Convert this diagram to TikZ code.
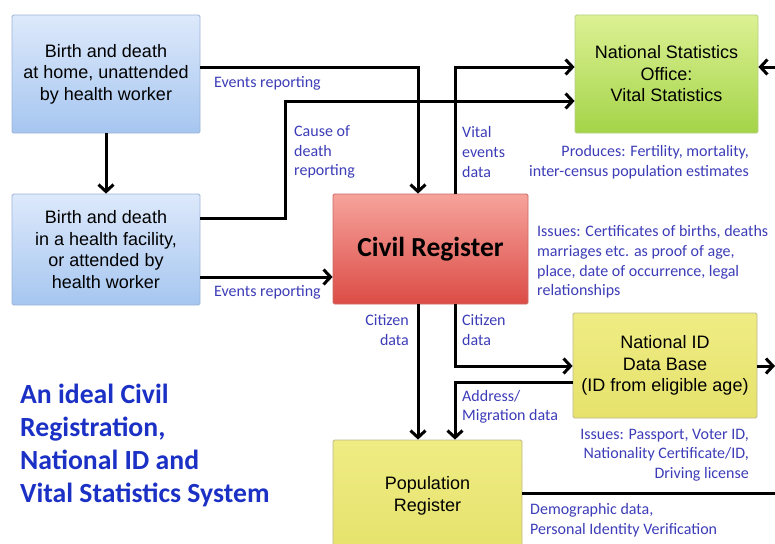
\documentclass[tikz,border=0pt]{standalone}
\usepackage{fontspec}
\setmainfont{Liberation Sans}
\newfontfamily\calibri{Carlito}
\usetikzlibrary{arrows.meta, calc}

\definecolor{noteblue}{HTML}{3C3CB8}
\definecolor{titleblue}{HTML}{1B30C4}
\definecolor{bluetop}{HTML}{DDE9FB}
\definecolor{bluebot}{HTML}{A6C6F0}
\definecolor{blueline}{HTML}{9DB4D6}
\definecolor{greentop}{HTML}{DCF194}
\definecolor{greenbot}{HTML}{A4D448}
\definecolor{greenline}{HTML}{B7CF86}
\definecolor{redtop}{HTML}{F6A39C}
\definecolor{redbot}{HTML}{DC4C46}
\definecolor{redline}{HTML}{C96A66}
\definecolor{yellowtop}{HTML}{EFEC84}
\definecolor{yellowbot}{HTML}{E6E26C}
\definecolor{yellowline}{HTML}{BDB98A}

\begin{document}
\begin{tikzpicture}[x=1pt, y=-1pt,
  box/.style={draw, line width=0.8pt, rounded corners=1.5pt, align=center, inner sep=0pt,
    font=\fontsize{18}{21.5}\selectfont},
  bluebox/.style={box, draw=blueline, top color=bluetop, bottom color=bluebot},
  greenbox/.style={box, draw=greenline, top color=greentop, bottom color=greenbot},
  redbox/.style={box, draw=redline, top color=redtop, bottom color=redbot},
  yellowbox/.style={box, draw=yellowline, top color=yellowtop, bottom color=yellowbot},
  note/.style={inner sep=0pt, text=noteblue, font=\calibri\fontsize{16}{19.6}\selectfont},
  flow/.style={line width=3pt, -{Straight Barb[length=7pt,width=15pt]}},
  link/.style={line width=3pt}]
\useasboundingbox (0,0) rectangle (775,543);
\clip (0,0) rectangle (775,543);
% Boxes
\node[bluebox, minimum width=188pt, minimum height=118pt] (home) at (106,74)
  {Birth and death\\at home, unattended\\by health worker};
\node[bluebox, minimum width=188pt, minimum height=111pt] (facility) at (106,249.5)
  {Birth and death\\in a health facility,\\or attended by\\health worker};
\node[redbox, minimum width=195pt, minimum height=110pt, font=\calibri\bfseries\fontsize{27.5}{30}\selectfont] (civil) at (430.5,249)
  {Civil Register};
\node[greenbox, minimum width=183pt, minimum height=118pt] (nso) at (666.5,74)
  {National Statistics\\Office:\\Vital Statistics};
\node[yellowbox, minimum width=184pt, minimum height=105pt] (natid) at (665,365.5)
  {National ID\\Data Base\\(ID from eligible age)};
\node[yellowbox, minimum width=189pt, minimum height=112pt] (popreg) at (427.5,496)
  {Population\\Register};
% Bends
\coordinate (home-in) at (418,67);
\coordinate (cause) at (285,101);
\coordinate (cause-out) at (0,218);
\coordinate (vital) at (455,67);
\coordinate (facility-in) at (0,277);
\coordinate (citizen) at (418,0);
\coordinate (to-id) at (455,366);
\coordinate (address) at (455,382);
\coordinate (nso-feed) at (775,67);
\coordinate (id-out) at (775,366);
\coordinate (pop-out) at (775,493);
% Connectors
\draw[flow] (home.south) -- (facility.north);
\draw[flow] (home.east |- home-in) -| (civil.north -| home-in);
\draw[flow] (facility.east |- cause-out) -| (cause) -- (nso.west |- cause);
\draw[flow] (civil.north -| vital) |- (nso.west |- vital);
\draw[flow] (nso-feed) -- (nso.east |- nso-feed);
\draw[flow] (facility.east |- facility-in) -- (civil.west |- facility-in);
\draw[flow] (civil.south -| citizen) -- (popreg.north -| citizen);
\draw[flow] (civil.south -| to-id) |- (natid.west |- to-id);
\draw[flow] (natid.west |- address) -| (popreg.north -| address);
\draw[flow] (natid.east |- id-out) -- (id-out);
\draw[link] (popreg.east |- pop-out) -- (pop-out);
% Labels
\node[note, anchor=west] (ev-home) at (214,83) {Events reporting};
\node[note, anchor=west, align=left] (cause-lbl) at (294,152) {Cause of\\death\\reporting};
\node[note, anchor=west, align=left] (vital-lbl) at (462,152) {Vital\\events\\data};
\node[note, anchor=east, align=right] (produces) at (749,162)
  {Produces: Fertility, mortality,\\inter-census population estimates};
\node[note, anchor=west] (ev-facility) at (214,292) {Events reporting};
\node[note, anchor=west, align=left] (issues-civil) at (537,262)
  {Issues: Certificates of births, deaths\\marriages etc. as proof of age,\\place, date of occurrence, legal\\relationships};
\node[note, anchor=east, align=right] (cit-pop) at (409,330) {Citizen\\data};
\node[note, anchor=west, align=left] (cit-id) at (462,330) {Citizen\\data};
\node[note, anchor=west, align=left] (addr-lbl) at (462,407) {Address/\\Migration data};
\node[note, anchor=east, align=right] (issues-id) at (749,455)
  {Issues: Passport, Voter ID,\\Nationality Certificate/ID,\\Driving license};
\node[note, anchor=west, align=left] (demog) at (530,520)
  {Demographic data,\\Personal Identity Verification};
% Title
\node[anchor=west, align=left, inner sep=0pt, text=titleblue,
  font=\calibri\bfseries\fontsize{27.7}{33}\selectfont] (title) at (20,445)
  {An ideal Civil\\Registration,\\National ID and\\Vital Statistics System};
\end{tikzpicture}
\end{document}
